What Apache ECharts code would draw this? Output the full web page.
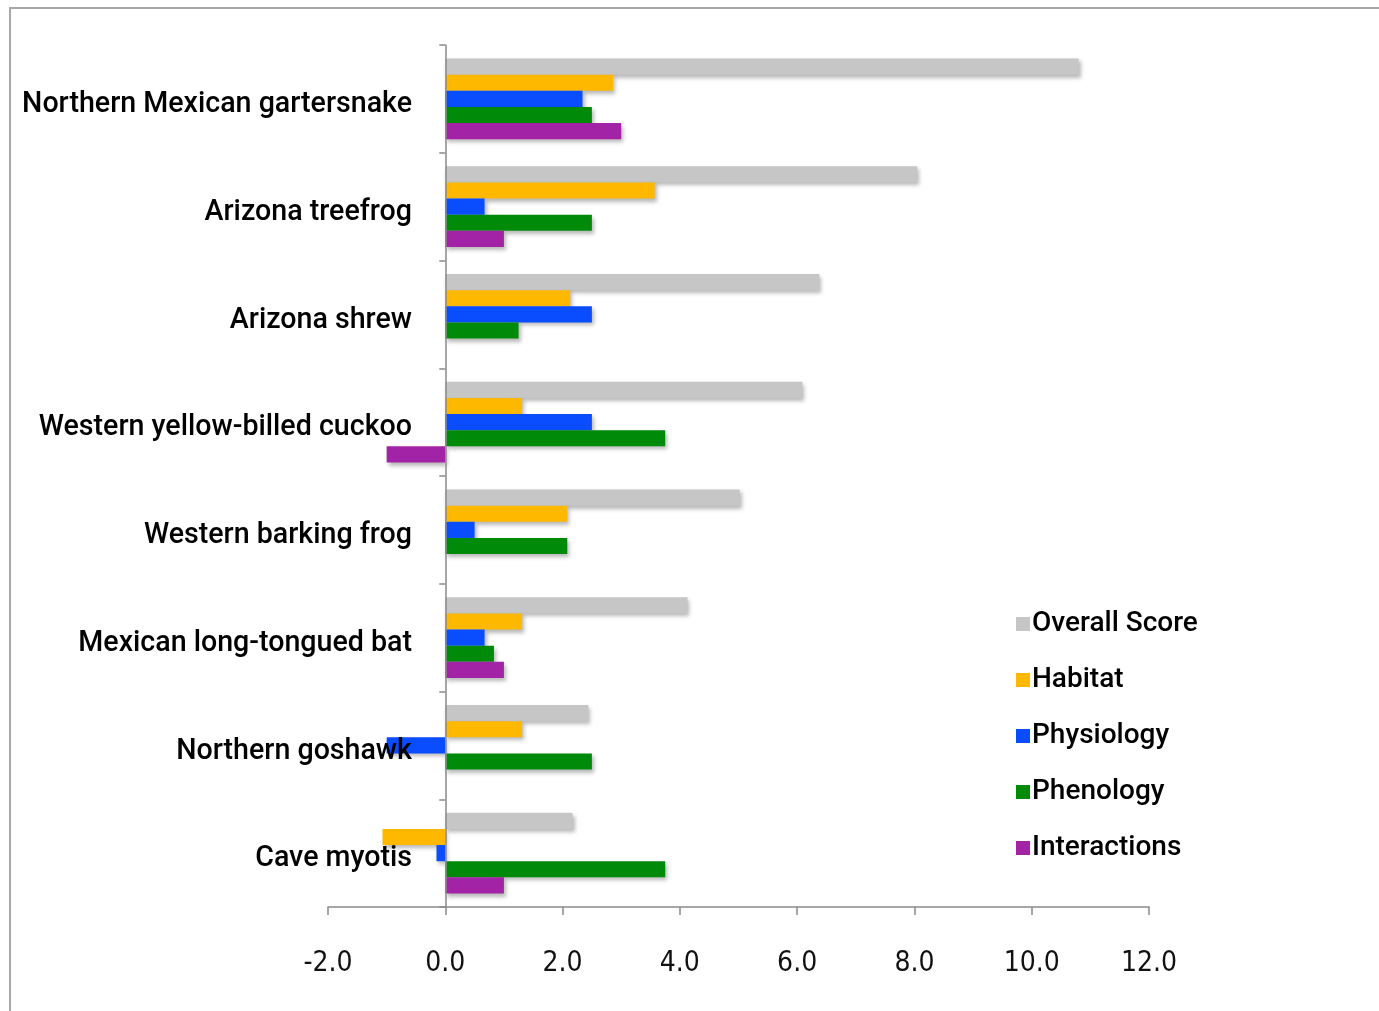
<!DOCTYPE html>
<html>
<head>
<meta charset="utf-8">
<title>Climate vulnerability scores by species</title>
<script src="https://cdn.jsdelivr.net/npm/echarts@6/dist/echarts.min.js"></script>
<style>
  html, body { margin: 0; padding: 0; background: #ffffff; }
  #chart { width: 1379px; height: 1011px; }
</style>
</head>
<body>
<div id="chart"></div>
<script>
// Species, listed top to bottom
const species = [
  'Northern Mexican gartersnake',
  'Arizona treefrog',
  'Arizona shrew',
  'Western yellow-billed cuckoo',
  'Western barking frog',
  'Mexican long-tongued bat',
  'Northern goshawk',
  'Cave myotis'
];

// Score components per species (null = no score shown)
const overallScore = [10.8, 8.05, 6.38, 6.09, 5.02, 4.13, 2.44, 2.17];
const habitat      = [2.86, 3.57, 2.13, 1.31, 2.08, 1.31, 1.31, -1.07];
const physiology   = [2.34, 0.67, 2.5, 2.5, 0.5, 0.67, -1.0, -0.15];
const phenology    = [2.5, 2.5, 1.25, 3.75, 2.08, 0.83, 2.5, 3.75];
const interactions = [3.0, 1.0, null, -1.0, null, 1.0, null, 1.0];

const xTicks = { min: -2, max: 12, step: 2 };

const seriesDefs = [
  { name: 'Overall Score', data: overallScore, color: '#c6c6c6' },
  { name: 'Habitat',       data: habitat,      color: '#ffb800' },
  { name: 'Physiology',    data: physiology,   color: '#0a4dff' },
  { name: 'Phenology',     data: phenology,    color: '#008a0a' },
  { name: 'Interactions',  data: interactions, color: '#a223a6' }
];

const chart = echarts.init(document.getElementById('chart'), null, { renderer: 'canvas' });

const labelFont = 'Roboto, "Liberation Sans", Arial, sans-serif';
const tickFont = '"Liberation Sans Narrow", "DejaVu Sans Condensed", "Open Sans", sans-serif';

chart.setOption({
  backgroundColor: '#ffffff',
  animation: false,
  graphic: [{
    type: 'rect',
    shape: { x: 10, y: 8, width: 1400, height: 1100 },
    style: { fill: 'none', stroke: '#a8a8a8', lineWidth: 2 },
    z: -1
  }],
  grid: {
    left: 328, right: 230, top: 45, bottom: 104,
    containLabel: false,
    outerBoundsMode: 'none'
  },
  legend: {
    orient: 'vertical',
    left: 1011,
    top: 604,
    itemWidth: 14,
    itemHeight: 14,
    itemGap: 26,
    icon: 'rect',
    textStyle: {
      fontFamily: labelFont,
      fontWeight: 500,
      fontSize: 28,
      lineHeight: 30,
      color: '#000000',
      padding: [0, 0, 0, -3]
    },
    data: seriesDefs.map(s => s.name)
  },
  xAxis: {
    type: 'value',
    min: xTicks.min,
    max: xTicks.max,
    interval: xTicks.step,
    axisLine: { show: true, lineStyle: { color: '#8a8a8a', width: 1.5 } },
    axisTick: { show: true, length: 8, lineStyle: { color: '#8a8a8a', width: 1.5 } },
    splitLine: { show: false },
    axisLabel: {
      margin: 43,
      fontFamily: tickFont,
      fontSize: 28,
      color: '#111111',
      formatter: v => v.toFixed(1)
    }
  },
  yAxis: {
    type: 'category',
    data: species,
    inverse: true,
    z: 10,
    axisLine: { show: true, onZero: true, lineStyle: { color: '#8a8a8a', width: 1.5 } },
    axisTick: { show: true, length: 6, lineStyle: { color: '#8a8a8a', width: 1.5 } },
    axisLabel: {
      // labels sit just left of the zero line, overlapping negative bars
      margin: -84,
      formatter: v => '{n|' + v + '}',
      rich: {
        n: {
          fontFamily: labelFont,
          fontWeight: 500,
          fontSize: 28.6,
          color: '#000000',
          padding: [12, 0, 0, 0]
        }
      }
    }
  },
  series: seriesDefs.map(s => ({
    name: s.name,
    type: 'bar',
    data: s.data,
    barGap: '0%',
    barCategoryGap: '25%',
    itemStyle: {
      color: s.color,
      shadowColor: 'rgba(0,0,0,0.28)',
      shadowBlur: 4,
      shadowOffsetX: 2,
      shadowOffsetY: 3
    }
  }))
});
</script>
</body>
</html>
